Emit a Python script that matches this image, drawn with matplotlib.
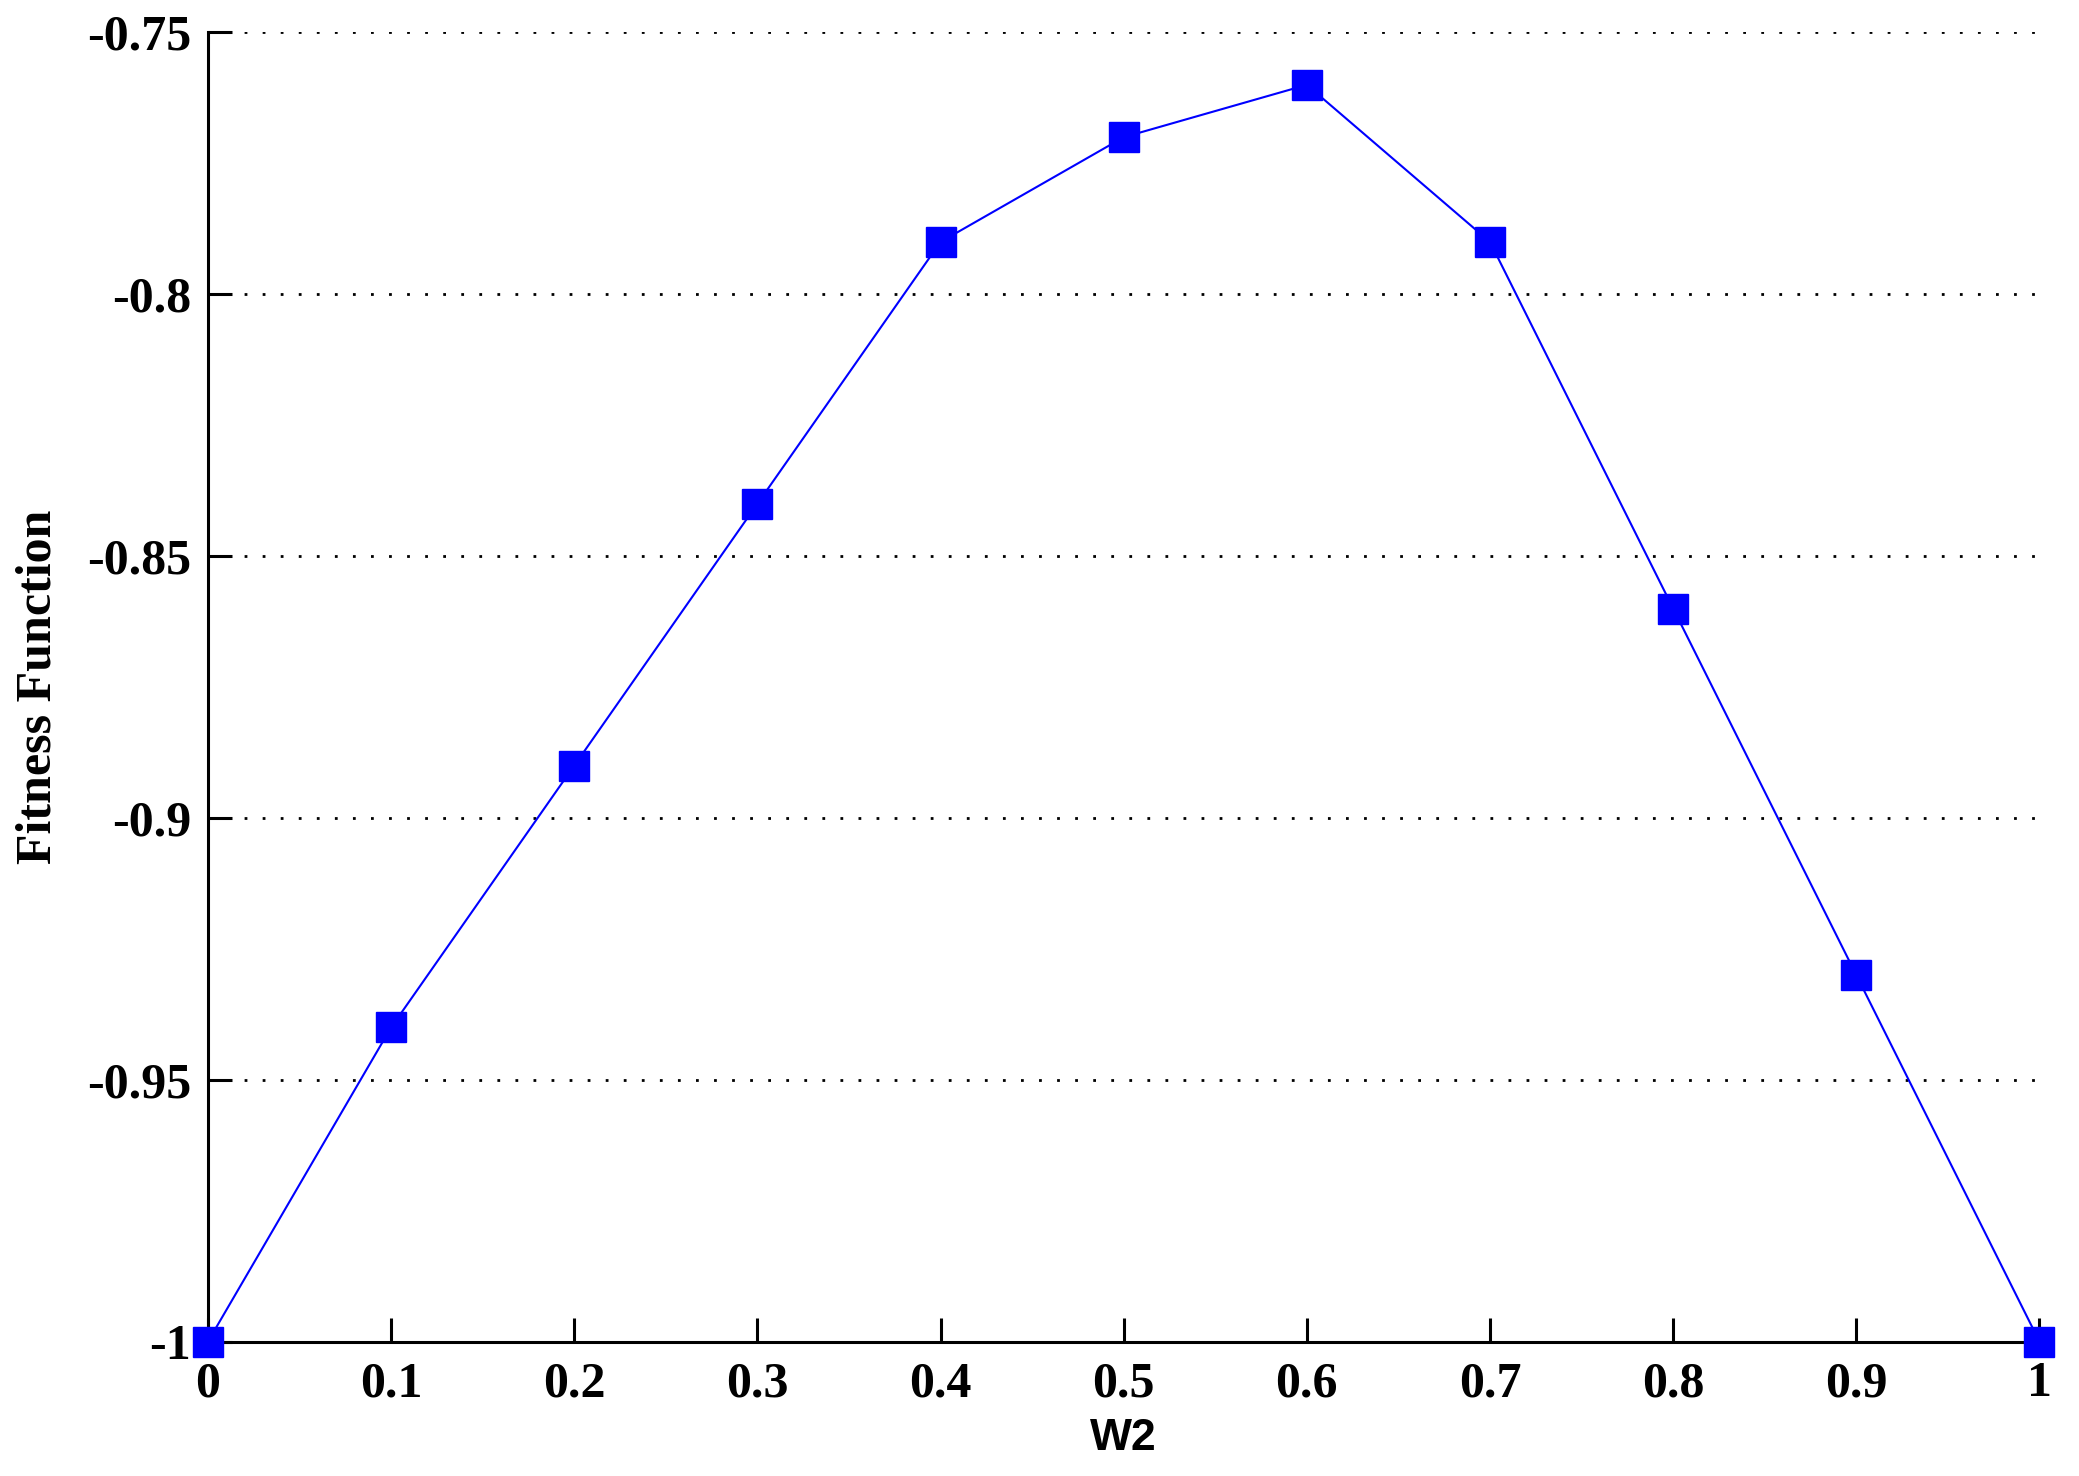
import matplotlib
matplotlib.use('Agg')
import matplotlib.pyplot as plt

w2 = [0, 0.1, 0.2, 0.3, 0.4, 0.5, 0.6, 0.7, 0.8, 0.9, 1.0]
fitness = [-1.0, -0.94, -0.89, -0.84, -0.79, -0.77, -0.76, -0.79, -0.86, -0.93, -1.0]
xticks = [0, 0.1, 0.2, 0.3, 0.4, 0.5, 0.6, 0.7, 0.8, 0.9, 1]
xlabels = ['0', '0.1', '0.2', '0.3', '0.4', '0.5', '0.6', '0.7', '0.8', '0.9', '1']
yticks = [-1, -0.95, -0.9, -0.85, -0.8, -0.75]
ylabels = ['-1', '-0.95', '-0.9', '-0.85', '-0.8', '-0.75']

serif = {'family': 'Liberation Serif', 'weight': 'bold', 'size': 36}

fig = plt.figure(figsize=(20.79, 14.76), dpi=100, facecolor='white')
ax = fig.add_axes([0.100, 0.091, 0.881, 0.887])

ax.plot(w2, fitness, color='#0000ff', linewidth=1.5, marker='s', markersize=22,
        markerfacecolor='#0000ff', markeredgecolor='#0000ff', clip_on=False, zorder=5)

ax.set_xlim(0, 1)
ax.set_ylim(-1, -0.75)
ax.set_xticks(xticks)
ax.set_xticklabels(xlabels, fontdict=serif)
ax.set_yticks(yticks)
ax.set_yticklabels(ylabels, fontdict=serif)

for side in ['top', 'right']:
    ax.spines[side].set_visible(False)
for side in ['left', 'bottom']:
    ax.spines[side].set_linewidth(2.2)

ax.tick_params(axis='both', direction='in', length=17, width=2.2, colors='black')
ax.tick_params(axis='x', pad=14)
ax.tick_params(axis='y', pad=12)

ax.yaxis.grid(True, color='black', linestyle=(0, (1, 5.5)), linewidth=2)
ax.set_axisbelow(True)

ax.set_xlabel('W2', family='Liberation Sans', weight='bold', size=32, labelpad=8)
ax.set_ylabel('Fitness Function', fontdict=serif, labelpad=18)

fig.savefig('out.png', dpi=100, facecolor='white')
